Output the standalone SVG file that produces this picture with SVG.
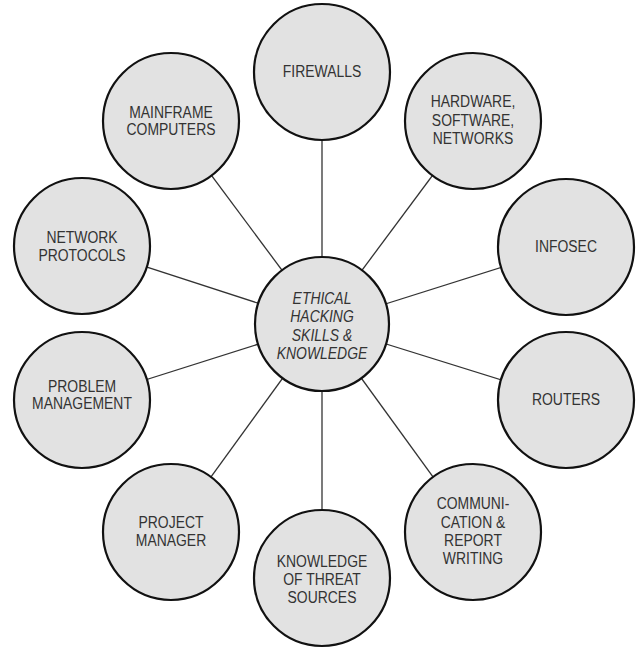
<svg xmlns="http://www.w3.org/2000/svg" width="644" height="653" viewBox="0 0 644 653">
<style>
.c{fill:#e2e2e2;stroke:#111;stroke-width:2.2}
.t{font-family:"Liberation Sans",Arial,sans-serif;font-size:17px;fill:#333;text-anchor:middle}
.i{font-style:italic}
#connectors line{stroke:#333;stroke-width:1.3}
</style>
<rect width="644" height="653" fill="#fff"/>
<g id="connectors">
<line x1="322" y1="324" x2="322" y2="72"/>
<line x1="322" y1="324" x2="473" y2="121"/>
<line x1="322" y1="324" x2="566" y2="247"/>
<line x1="322" y1="324" x2="566" y2="400"/>
<line x1="322" y1="324" x2="473" y2="532"/>
<line x1="322" y1="324" x2="322" y2="578"/>
<line x1="322" y1="324" x2="171" y2="532"/>
<line x1="322" y1="324" x2="82" y2="400"/>
<line x1="322" y1="324" x2="82" y2="246"/>
<line x1="322" y1="324" x2="171" y2="121"/>
</g>
<g id="center">
<circle class="c" cx="322" cy="324" r="67"/>
<text class="t i" transform="translate(322 0) scale(0.82 1)"><tspan x="0" y="304">ETHICAL</tspan><tspan x="0" y="322">HACKING</tspan><tspan x="0" y="341">SKILLS &amp;</tspan><tspan x="0" y="359">KNOWLEDGE</tspan></text>
</g>
<g id="firewalls">
<circle class="c" cx="322" cy="72" r="68"/>
<text class="t" transform="translate(322 0) scale(0.82 1)" x="0" y="77">FIREWALLS</text>
</g>
<g id="hardware">
<circle class="c" cx="473" cy="121" r="68"/>
<text class="t" transform="translate(473 0) scale(0.82 1)"><tspan x="0" y="107">HARDWARE,</tspan><tspan x="0" y="126">SOFTWARE,</tspan><tspan x="0" y="144">NETWORKS</tspan></text>
</g>
<g id="infosec">
<circle class="c" cx="566" cy="247" r="68"/>
<text class="t" transform="translate(566 0) scale(0.82 1)" x="0" y="252">INFOSEC</text>
</g>
<g id="routers">
<circle class="c" cx="566" cy="400" r="68"/>
<text class="t" transform="translate(566 0) scale(0.82 1)" x="0" y="405">ROUTERS</text>
</g>
<g id="communication">
<circle class="c" cx="473" cy="532" r="68"/>
<text class="t" transform="translate(473 0) scale(0.82 1)"><tspan x="0" y="509">COMMUNI-</tspan><tspan x="0" y="528">CATION &amp;</tspan><tspan x="0" y="546">REPORT</tspan><tspan x="0" y="564">WRITING</tspan></text>
</g>
<g id="knowledge">
<circle class="c" cx="322" cy="578" r="68"/>
<text class="t" transform="translate(322 0) scale(0.82 1)"><tspan x="0" y="567">KNOWLEDGE</tspan><tspan x="0" y="585">OF THREAT</tspan><tspan x="0" y="603">SOURCES</tspan></text>
</g>
<g id="project">
<circle class="c" cx="171" cy="532" r="68"/>
<text class="t" transform="translate(171 0) scale(0.82 1)"><tspan x="0" y="528">PROJECT</tspan><tspan x="0" y="546">MANAGER</tspan></text>
</g>
<g id="problem">
<circle class="c" cx="82" cy="400" r="68"/>
<text class="t" transform="translate(82 0) scale(0.82 1)"><tspan x="0" y="392">PROBLEM</tspan><tspan x="0" y="409">MANAGEMENT</tspan></text>
</g>
<g id="network">
<circle class="c" cx="82" cy="246" r="68"/>
<text class="t" transform="translate(82 0) scale(0.82 1)"><tspan x="0" y="243">NETWORK</tspan><tspan x="0" y="261">PROTOCOLS</tspan></text>
</g>
<g id="mainframe">
<circle class="c" cx="171" cy="121" r="68"/>
<text class="t" transform="translate(171 0) scale(0.82 1)"><tspan x="0" y="118">MAINFRAME</tspan><tspan x="0" y="135">COMPUTERS</tspan></text>
</g>
</svg>
